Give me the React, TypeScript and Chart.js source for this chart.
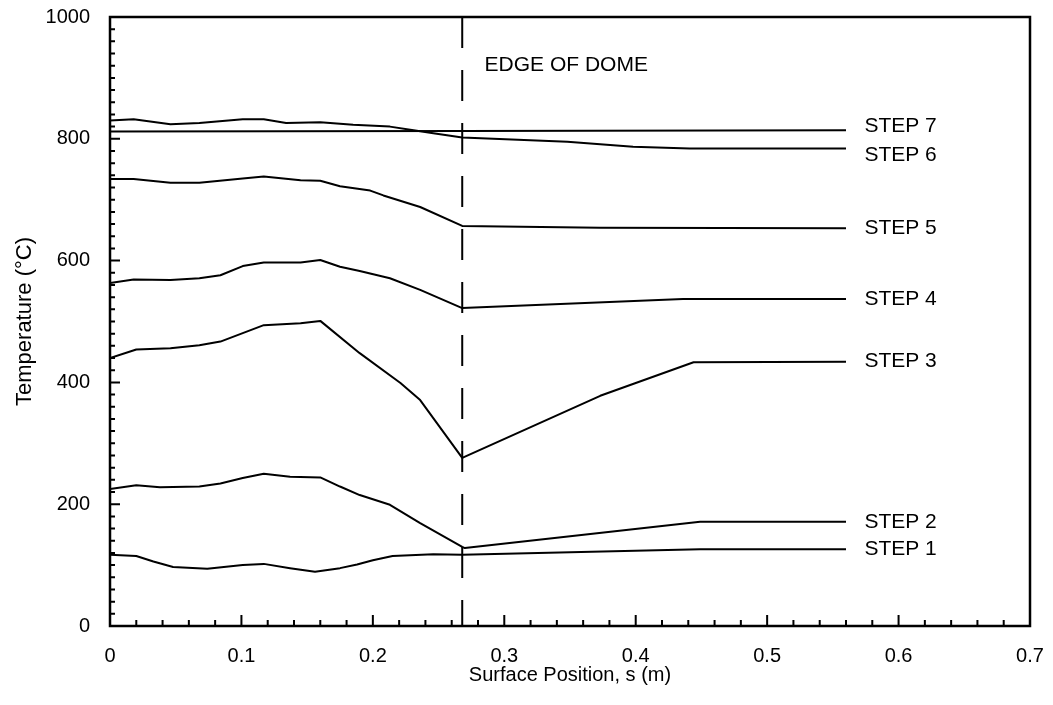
import { useEffect, useRef } from "react";
import { Chart, registerables } from "chart.js";

Chart.register(...registerables);

// Axis tick labels
const xTickLabels = ["0", "0.1", "0.2", "0.3", "0.4", "0.5", "0.6", "0.7"];
const yTickLabels = ["0", "200", "400", "600", "800", "1000"];

// Surface position s (m) and temperature (°C) per step
const step1S = [0, 0.02, 0.033, 0.048, 0.074, 0.101, 0.117, 0.137, 0.156, 0.175, 0.188, 0.2, 0.215, 0.246, 0.268, 0.449, 0.56];
const step1T = [117, 115, 106, 97, 94, 100, 102, 95, 89, 95, 101, 108, 115, 118, 117, 126, 126];

const step2S = [0, 0.02, 0.038, 0.068, 0.084, 0.101, 0.117, 0.137, 0.16, 0.175, 0.19, 0.213, 0.236, 0.268, 0.27, 0.449, 0.56];
const step2T = [225, 231, 228, 229, 234, 243, 250, 245, 244, 229, 215, 199, 169, 130, 128, 171, 171];

const step3S = [0, 0.02, 0.046, 0.068, 0.084, 0.101, 0.117, 0.145, 0.16, 0.19, 0.221, 0.236, 0.268, 0.373, 0.444, 0.56];
const step3T = [440, 454, 456, 461, 467, 481, 494, 497, 501, 448, 399, 371, 276, 378, 433, 434];

const step4S = [0, 0.018, 0.046, 0.068, 0.084, 0.101, 0.117, 0.145, 0.16, 0.175, 0.19, 0.213, 0.236, 0.268, 0.436, 0.56];
const step4T = [563, 569, 568, 571, 576, 591, 597, 597, 601, 590, 583, 571, 552, 522, 537, 537];

const step5S = [0, 0.018, 0.046, 0.068, 0.101, 0.117, 0.145, 0.16, 0.175, 0.198, 0.208, 0.236, 0.268, 0.373, 0.56];
const step5T = [734, 734, 728, 728, 735, 738, 732, 731, 722, 715, 707, 688, 657, 654, 653];

const step6S = [0, 0.018, 0.046, 0.068, 0.101, 0.117, 0.134, 0.16, 0.185, 0.213, 0.231, 0.246, 0.268, 0.348, 0.398, 0.441, 0.56];
const step6T = [830, 832, 824, 826, 832, 832, 826, 827, 823, 820, 814, 809, 802, 795, 787, 784, 784];

const step7S = [0, 0.268, 0.56];
const step7T = [812, 813, 814];

// Edge of dome marker
const edgeS = [0.268, 0.268];
const edgeT = [1000, 0];
const edgeLabel = "EDGE OF DOME";
const edgeLabelS = 0.285;
const edgeLabelT = 921;

// Step labels at right end
const stepNames = ["STEP 1", "STEP 2", "STEP 3", "STEP 4", "STEP 5", "STEP 6", "STEP 7"];
const stepLabelS = 0.574;
const stepLabelT = [126, 171, 434, 537, 653, 773, 820];

const FONT = "'Liberation Sans', Arial, Helvetica, sans-serif";

const zip = (s: number[], t: number[]) => s.map((v, i) => ({ x: v, y: t[i] }));

const decorPlugin = {
  id: "decor",
  afterDatasetsDraw(chart: any) {
    const { ctx, chartArea: a, scales } = chart;
    const xs = scales.x;
    const ys = scales.y;
    ctx.save();
    ctx.strokeStyle = "#000";
    ctx.lineWidth = 2;
    ctx.beginPath();
    for (let i = 0; i <= 50; i++) {
      const y = ys.getPixelForValue(i * 20);
      const len = i % 10 === 0 ? 10 : 5;
      ctx.moveTo(a.left, y);
      ctx.lineTo(a.left + len, y);
    }
    for (let i = 0; i <= 35; i++) {
      const x = xs.getPixelForValue(i * 0.02);
      const len = i % 5 === 0 ? 11 : 6;
      ctx.moveTo(x, a.bottom);
      ctx.lineTo(x, a.bottom - len);
    }
    ctx.stroke();
    ctx.lineWidth = 2.5;
    ctx.strokeRect(a.left, a.top, a.right - a.left, a.bottom - a.top);

    ctx.fillStyle = "#000";
    ctx.font = `21px ${FONT}`;
    ctx.textAlign = "left";
    ctx.textBaseline = "middle";
    stepNames.forEach((n, i) => {
      ctx.fillText(n, xs.getPixelForValue(stepLabelS), ys.getPixelForValue(stepLabelT[i]));
    });
    ctx.fillText(edgeLabel, xs.getPixelForValue(edgeLabelS), ys.getPixelForValue(edgeLabelT));
    ctx.restore();
  },
};

const noOverhang = (s: any) => {
  s.paddingTop = 0;
  s.paddingBottom = 0;
  s.paddingLeft = 0;
  s.paddingRight = 0;
};

export default function App() {
  const ref = useRef<HTMLCanvasElement | null>(null);

  useEffect(() => {
    if (!ref.current) return;
    const line = (s: number[], t: number[], w = 2) => ({
      data: zip(s, t),
      borderColor: "#000",
      borderWidth: w,
      pointRadius: 0,
      fill: false,
      tension: 0,
      borderJoinStyle: "round" as const,
    });
    const chart = new Chart(ref.current, {
      type: "line",
      data: {
        datasets: [
          line(step1S, step1T),
          line(step2S, step2T),
          line(step3S, step3T),
          line(step4S, step4T),
          line(step5S, step5T),
          line(step6S, step6T),
          line(step7S, step7T),
          { ...line(edgeS, edgeT), borderDash: [31, 22], borderCapStyle: "butt" as const },
        ],
      },
      options: {
        animation: false,
        responsive: false,
        maintainAspectRatio: false,
        layout: { padding: { top: 17, right: 23, left: 0, bottom: 0 } },
        plugins: { legend: { display: false }, tooltip: { enabled: false } },
        scales: {
          x: {
            type: "linear",
            min: 0,
            max: 0.7,
            grid: { display: false, drawTicks: false },
            border: { display: false },
            ticks: {
              stepSize: 0.1,
              padding: 18,
              color: "#000",
              font: { family: FONT, size: 20 },
              maxRotation: 0,
              callback: (_v: any, i: number) => xTickLabels[i],
            },
            title: {
              display: true,
              text: "Surface Position, s (m)",
              color: "#000",
              font: { family: FONT, size: 20 },
              padding: { top: 0, bottom: 18 },
            },
            afterFit: (s: any) => {
              s.height = 79;
              noOverhang(s);
            },
          },
          y: {
            type: "linear",
            min: 0,
            max: 1000,
            grid: { display: false, drawTicks: false },
            border: { display: false },
            ticks: {
              stepSize: 200,
              padding: 20,
              color: "#000",
              font: { family: FONT, size: 20 },
              callback: (_v: any, i: number) => yTickLabels[i],
            },
            title: {
              display: true,
              text: "Temperature (°C)",
              color: "#000",
              font: { family: FONT, size: 22 },
              padding: { top: 12, bottom: 0 },
            },
            afterFit: (s: any) => {
              s.width = 110;
              noOverhang(s);
            },
          },
        },
      },
      plugins: [decorPlugin],
    });
    return () => chart.destroy();
  }, []);

  return (
    <div style={{ position: "absolute", left: 0, top: 0, width: 1053, height: 705, background: "#fff" }}>
      <canvas ref={ref} width={1053} height={705} style={{ display: "block" }} />
    </div>
  );
}
